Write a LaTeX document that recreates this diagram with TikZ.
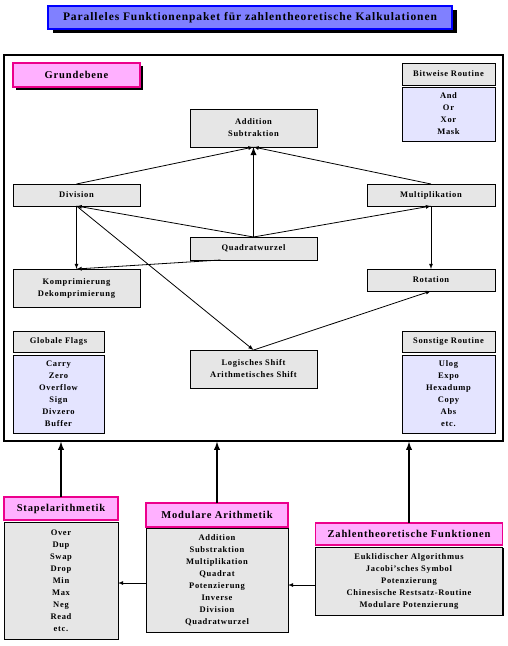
\documentclass[tikz,border=0pt]{standalone}
\usepackage{fontspec}
\setmainfont[LetterSpace=8]{Liberation Serif}
\usetikzlibrary{calc,shadows}

\definecolor{titelblau}{RGB}{128,128,255}
\definecolor{rosa}{RGB}{255,176,255}
\definecolor{grau}{RGB}{230,230,230}
\definecolor{lavendel}{RGB}{228,228,255}

\tikzset{
  kasten/.style={draw,line width=1pt,fill=grau,inner sep=0pt,outer sep=0pt,align=center,
    font=\fontsize{8.5}{12}\selectfont\bfseries,
    drop shadow={shadow xshift=1pt,shadow yshift=-1pt,fill=black,opacity=1}},
  liste/.style={kasten,fill=lavendel},
  kopf/.style={draw=magenta,line width=1.5pt,fill=rosa,inner sep=0pt,outer sep=0pt,
    font=\fontsize{10.5}{12}\selectfont\bfseries},
  pfeil/.style={line width=0.8pt,-latex},
  dickpfeil/.style={line width=1.8pt,-latex}
}

\begin{document}
\begin{tikzpicture}[x=1pt,y=-1pt]
\useasboundingbox (0,0) rectangle (508,646);

% Titel
\node[draw=blue,line width=1.5pt,fill=titelblau,minimum width=404,minimum height=23,inner sep=0pt,
      font=\fontsize{11.5}{12}\selectfont\bfseries,
      drop shadow={shadow xshift=5pt,shadow yshift=-4pt,fill=black,opacity=1}]
      (titel) at (250,17.5) {Paralleles Funktionenpaket für zahlentheoretische Kalkulationen};

% Grundebene
\node[draw,line width=1.5pt,minimum width=499,minimum height=386,inner sep=0pt] (grund) at (253.5,248) {};
\node[kopf,minimum width=127,minimum height=24,
      drop shadow={shadow xshift=3pt,shadow yshift=-3pt,fill=black,opacity=1}]
      (grundkopf) at (76.5,75) {Grundebene};

\node[kasten,minimum width=93,minimum height=22] (bitkopf) at (448.5,74) {Bitweise Routine};
\node[liste,minimum width=93,minimum height=54] (bit) at (448.5,114) {And\\Or\\Xor\\Mask};

\node[kasten,minimum width=127,minimum height=38] (addsub) at (253.5,128) {Addition\\Subtraktion};
\node[kasten,minimum width=127,minimum height=22] (division) at (76.5,195) {Division};
\node[kasten,minimum width=128,minimum height=22] (multi) at (431,195) {Multiplikation};
\node[kasten,minimum width=127,minimum height=23] (quadrat) at (253.5,248.5) {Quadratwurzel};
\node[kasten,minimum width=127,minimum height=38] (kompr) at (76.5,288) {Komprimierung\\Dekomprimierung};
\node[kasten,minimum width=128,minimum height=22] (rotation) at (431,280) {Rotation};
\node[kasten,minimum width=127,minimum height=38] (shift) at (253.5,369) {Logisches Shift\\Arithmetisches Shift};

\node[kasten,minimum width=91,minimum height=21] (flagkopf) at (58.5,341.5) {Globale Flags};
\node[liste,minimum width=91,minimum height=78] (flags) at (58.5,394) {Carry\\Zero\\Overflow\\Sign\\Divzero\\Buffer};
\node[kasten,minimum width=93,minimum height=21] (sonstkopf) at (448.5,341.5) {Sonstige Routine};
\node[liste,minimum width=93,minimum height=78] (sonst) at (448.5,394) {Ulog\\Expo\\Hexadump\\Copy\\Abs\\etc.};

\draw[pfeil] (division.north) -- (addsub.south);
\draw[pfeil] (multi.north) -- (addsub.south);
\draw[dickpfeil] (quadrat.north) -- (addsub.south);
\draw[pfeil] (quadrat.north) -- (division.south);
\draw[pfeil] (quadrat.north) -- (multi.south);
\draw[pfeil] (division.south) -- (kompr.north);
\draw[pfeil] ([xshift=-33pt]quadrat.south) -- (kompr.north);
\draw[pfeil] (multi.south) -- (rotation.north);
\draw[pfeil] (division.south) -- (shift.north);
\draw[pfeil] (shift.north) -- (rotation.south);

% Module
\node[kopf,minimum width=114,minimum height=23] (stapel) at (61,508.5) {Stapelarithmetik};
\node[kasten,minimum width=114,minimum height=117] (stapelliste) at (61,580.5)
      {Over\\Dup\\Swap\\Drop\\Min\\Max\\Neg\\Read\\etc.};
\node[kopf,minimum width=142,minimum height=24] (modul) at (217,515) {Modulare Arithmetik};
\node[kasten,minimum width=142,minimum height=104] (modulliste) at (217,580)
      {Addition\\Substraktion\\Multiplikation\\Quadrat\\Potenzierung\\Inverse\\Division\\Quadratwurzel};
\node[kopf,minimum width=187,minimum height=22] (zahlen) at (409,534) {Zahlentheoretische Funktionen};
\node[kasten,minimum width=187,minimum height=68] (zahlenliste) at (409,581)
      {Euklidischer Algorithmus\\Jacobi'sches Symbol\\Potenzierung\\Chinesische Restsatz-Routine\\Modulare Potenzierung};

\foreach \n in {stapel,modul,zahlen}
  \draw[dickpfeil] (\n.north) -- (\n.north |- grund.south);

\draw[pfeil] ([yshift=-3pt]modulliste.west) -- ([yshift=-3pt]modulliste.west -| stapelliste.east);
\draw[pfeil] ([yshift=-4pt]zahlenliste.west) -- ([yshift=-4pt]zahlenliste.west -| modulliste.east);
\end{tikzpicture}
\end{document}
